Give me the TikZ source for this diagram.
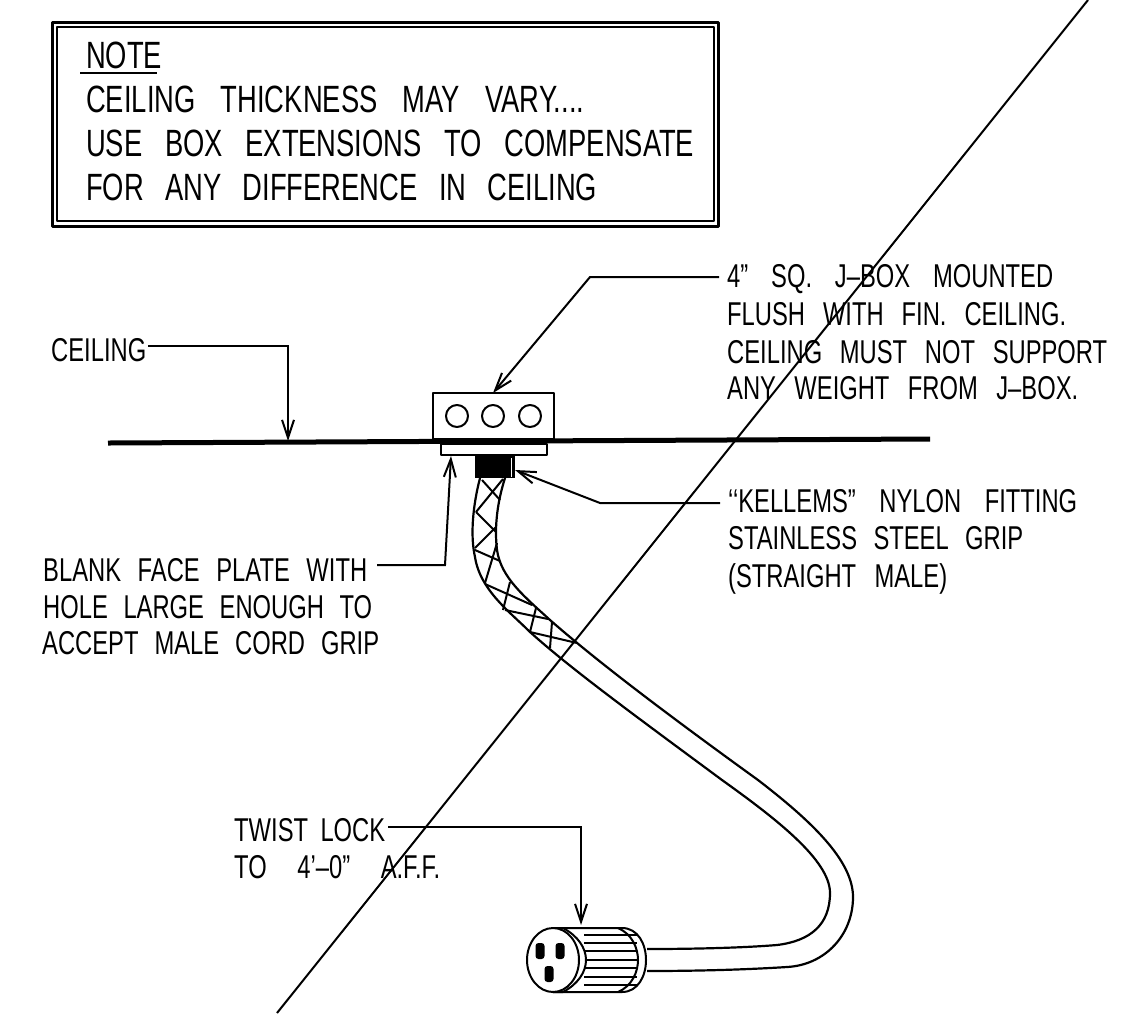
\documentclass[tikz,border=0pt]{standalone}
\usepackage{fontspec}
\usetikzlibrary{arrows.meta}
\newfontfamily\cadfont[FakeStretch=0.72]{Liberation Sans}
\newcommand{\fitw}[2]{\makebox[#1pt][s]{#2}}
\tikzset{
  x=1pt,y=-1pt,
  lbl/.style={anchor=base west,inner sep=0pt,font=\cadfont\fontsize{33}{33}\selectfont,text=black},
  bigl/.style={lbl,font=\cadfont\fontsize{38}{38}\selectfont},
  ink/.style={draw=black,line width=2pt,line join=round},
  leader/.style={draw=black,line width=2pt,-{Straight Barb[length=18pt,width=12pt,line width=2pt]}},
  cable/.style={draw=black,line width=2.2pt},
}
\begin{document}
\begin{tikzpicture}
\useasboundingbox (0,0) rectangle (1142,1013);
\fill[white] (0,0) rectangle (1142,1013);
% note frame
\draw[ink,line width=3pt] (52,22) rectangle (718,226);
\draw[ink,line width=1.6pt] (57,27) rectangle (714,221);
\node[bigl] (note) at (86,68) {NOTE};
\draw[ink] (80,73) -- (157,73);
\node[bigl] (n1) at (86,112) {\fitw{498}{CEILING THICKNESS MAY VARY....}};
\node[bigl] (n2) at (86,156) {\fitw{608}{USE BOX EXTENSIONS TO COMPENSATE}};
\node[bigl] (n3) at (86,200) {\fitw{511}{FOR ANY DIFFERENCE IN CEILING}};
% diagonal
\draw[ink] (1088,0) -- (277,1013);
% ceiling
\draw[draw=black,line width=5pt] (108,443) -- (930,439);
% j-box
\draw[ink,fill=white] (433,393) rectangle (554,439);
\foreach \cx in {457,493,530}{\draw[ink] (\cx,416) circle (11);}
\draw[ink,fill=white] (441,444) rectangle (547,455);
\fill[black] (475,455) rectangle (515,478);
\draw[white,line width=.8pt] (511,458) -- (511,477);
% cable
\draw[cable] (480,478) .. controls (473,505) and (470,535) .. (475,557)
  .. controls (480,590) and (510,612) .. (530,632)
  .. controls (570,668) and (630,712) .. (722,780)
  .. controls (775,818) and (830,860) .. (830,893)
  .. controls (830,925) and (810,941) .. (777,945)
  .. controls (740,948) and (690,949) .. (647,949);
\draw[cable] (505,478) .. controls (498,500) and (494,525) .. (497,550)
  .. controls (501,578) and (525,597) .. (550,620)
  .. controls (590,655) and (650,702) .. (758,780)
  .. controls (810,820) and (853,860) .. (853,897)
  .. controls (853,935) and (825,965) .. (787,967)
  .. controls (740,970) and (690,971) .. (647,971);
% braid
\draw[ink] (482,480) -- (500,500);
\draw[ink] (503,479) -- (476,512);
\draw[ink] (476,512) -- (496,532);
\draw[ink] (496,527) -- (475,548);
\draw[ink] (475,550) -- (500,561);
\draw[ink] (497,543) -- (485,583);
\draw[ink] (485,584) -- (532,605);
\draw[ink] (510,582) -- (503,610);
\draw[ink] (505,610) -- (548,619);
\draw[ink] (536,608) -- (530,632);
\draw[ink] (530,632) -- (577,643);
\draw[ink] (552,622) -- (550,648);
% plug
\draw[ink,fill=white] (553,928) -- (622,928)
   .. controls (638,928) and (646,944) .. (646,960)
   .. controls (646,976) and (638,992) .. (622,992) -- (553,992) -- cycle;
\draw[ink] (618,928) .. controls (632,934) and (638,948) .. (638,960)
   .. controls (638,972) and (632,986) .. (618,992);
\foreach \ry in {935,943,951,960,968,977,985}{\draw[draw=black,line width=1.6pt] (584,\ry) -- (637,\ry);}
\draw[ink,fill=white] (563,928) .. controls (578,936) and (586,948) .. (586,960)
   .. controls (586,972) and (578,984) .. (563,992) -- (553,992) -- (553,928) -- cycle;
\draw[ink,fill=white] (553,960) ellipse (26 and 32);
\foreach \hx/\hy in {540/951,560/951,549/974}{\fill[black,rounded corners=3pt] (\hx-4.5,\hy-8) rectangle (\hx+4.5,\hy+8);}
% labels
\node[lbl] (ceil) at (51,361) {CEILING};
\coordinate (ceilS) at (148,346); \coordinate (ceilB) at (288,346); \coordinate (ceilT) at (288,441);
\draw[leader] (ceilS) -- (ceilB) -- (ceilT);
\node[lbl] (j1) at (727,287) {\fitw{326}{4” SQ. J–BOX MOUNTED}};
\node[lbl] (j2) at (727,325) {\fitw{339}{FLUSH WITH FIN. CEILING.}};
\node[lbl] (j3) at (727,363) {\fitw{380}{CEILING MUST NOT SUPPORT}};
\node[lbl] (j4) at (727,399) {\fitw{351}{ANY WEIGHT FROM J–BOX.}};
\coordinate (jS) at (719,277); \coordinate (jB) at (590,277); \coordinate (jT) at (493,393);
\draw[leader] (jS) -- (jB) -- (jT);
\node[lbl] (k1) at (728,512) {\fitw{349}{‘‘KELLEMS” NYLON FITTING}};
\node[lbl] (k2) at (728,549) {\fitw{295}{STAINLESS STEEL GRIP}};
\node[lbl] (k3) at (728,587) {\fitw{219}{(STRAIGHT MALE)}};
\coordinate (kS) at (720,503); \coordinate (kB) at (600,503); \coordinate (kT) at (515,470);
\draw[leader] (kS) -- (kB) -- (kT);
\node[lbl] (b1) at (43,581) {\fitw{324}{BLANK FACE PLATE WITH}};
\node[lbl] (b2) at (43,618) {\fitw{329}{HOLE LARGE ENOUGH TO}};
\node[lbl] (b3) at (42,654) {\fitw{337}{ACCEPT MALE CORD GRIP}};
\coordinate (bS) at (377,565); \coordinate (bB) at (445,565); \coordinate (bT) at (451,456);
\draw[leader] (bS) -- (bB) -- (bT);
\node[lbl] (t1) at (234,841) {\fitw{151}{TWIST LOCK}};
\node[lbl] (t2) at (234,878) {\fitw{206}{TO 4’–0” A.F.F.}};
\coordinate (tS) at (388,827); \coordinate (tB) at (581,827); \coordinate (tT) at (581,925);
\draw[leader] (tS) -- (tB) -- (tT);
\end{tikzpicture}
\end{document}
